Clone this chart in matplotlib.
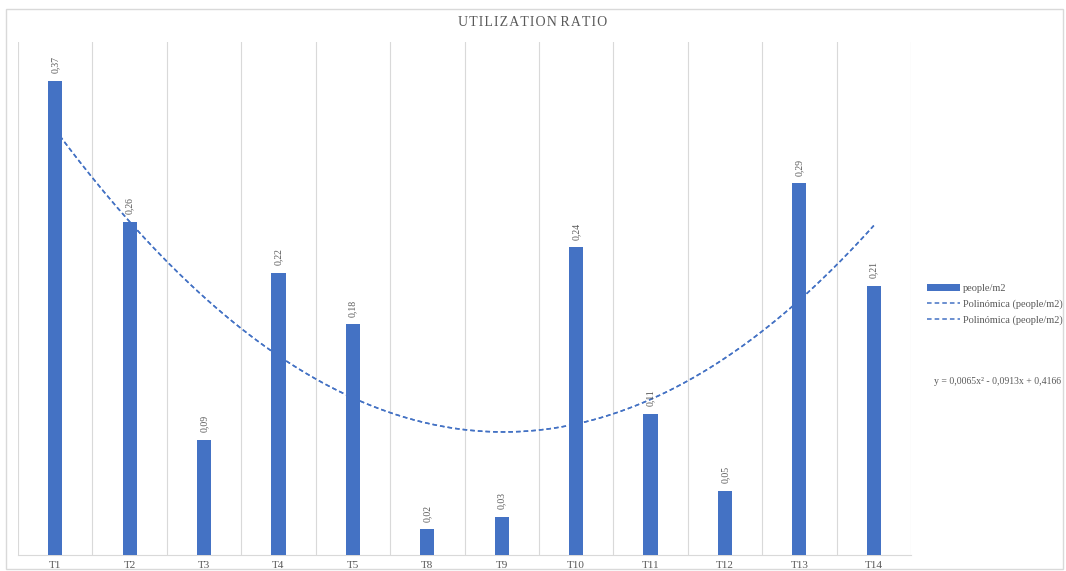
import numpy as np
import matplotlib
matplotlib.use("Agg")
import matplotlib.pyplot as plt
from matplotlib.patches import Rectangle

# utilization ratio per room
rooms = ["T1", "T2", "T3", "T4", "T5", "T8", "T9", "T10", "T11", "T12", "T13", "T14"]
people_m2 = [0.37, 0.26, 0.09, 0.22, 0.18, 0.02, 0.03, 0.24, 0.11, 0.05, 0.29, 0.21]

# 2nd order polynomial trend (a*x^2 + b*x + c), x = 1..n
trend_coef = [0.0065, -0.0913, 0.4166]

BLUE = "#4472C4"
GREY_TXT = "#595959"
plt.rcParams['font.family'] = ['Liberation Serif', 'DejaVu Serif']

fig = plt.figure(figsize=(10.66, 5.71), dpi=100)
fig.patch.set_facecolor("white")
fig.add_artist(Rectangle((0.006, 0.004), 0.991, 0.98, transform=fig.transFigure,
                         fill=False, edgecolor="#d9d9d9", linewidth=1.0))

ax = fig.add_axes([0.0169, 0.028, 0.8377, 0.898])
x = np.arange(1, len(rooms) + 1)
bars = ax.bar(x, people_m2, width=0.19, color=BLUE, label="people/m2", zorder=3)

# data labels, rotated
for xi, v in zip(x, people_m2):
    ax.text(xi, v + 0.006, f"{v:.2f}".replace(".", ","), rotation=90,
            ha="center", va="bottom", fontsize=7, color=GREY_TXT, zorder=4)

# trendline (drawn twice, two trend series in the legend)
xs = np.linspace(1, len(rooms), 200)
ys = np.polyval(trend_coef, xs)
trends = []
for _ in range(2):
    ln, = ax.plot(xs, ys, linestyle=(0, (3, 2)), color=BLUE, linewidth=1.1,
                  label="Polinómica (people/m2)", zorder=2)
    trends.append(ln)

ax.set_xlim(0.5, len(rooms) + 0.5)
ax.set_ylim(0, 0.4)
ax.set_xticks(x)
ax.set_xticklabels(rooms, fontsize=8, color=GREY_TXT)
ax.tick_params(axis="x", length=0, pad=4)
ax.set_yticks([])

# vertical separators between categories
for b in np.arange(0.5, len(rooms) + 1, 1.0):
    ax.axvline(b, color="#d9d9d9", linewidth=0.8, zorder=1)

for s in ["top", "left", "right"]:
    ax.spines[s].set_visible(False)
ax.spines["bottom"].set_color("#d9d9d9")

fig.text(0.5, 0.96, "U T I L I Z A T I O N   R A T I O".replace(" ", "\u200a").replace("\u200a\u200a\u200a", " "),
         ha="center", va="center", fontsize=10, color=GREY_TXT)

ax.legend([bars] + trends, ["people/m2"] + [t.get_label() for t in trends],
          loc="upper left", bbox_to_anchor=(0.8655, 0.51), bbox_transform=fig.transFigure,
          frameon=False, fontsize=7.5, labelcolor=GREY_TXT, handlelength=3.2,
          handletextpad=0.3, labelspacing=0.6, borderaxespad=0)

a, b, c = trend_coef
eq = f"y = {a:.4f}x² - {abs(b):.4f}x + {c:.4f}".replace(".", ",")
fig.text(0.9955, 0.331, eq, ha="right", va="center", fontsize=7, color=GREY_TXT)

fig.savefig("out.png", dpi=100)
